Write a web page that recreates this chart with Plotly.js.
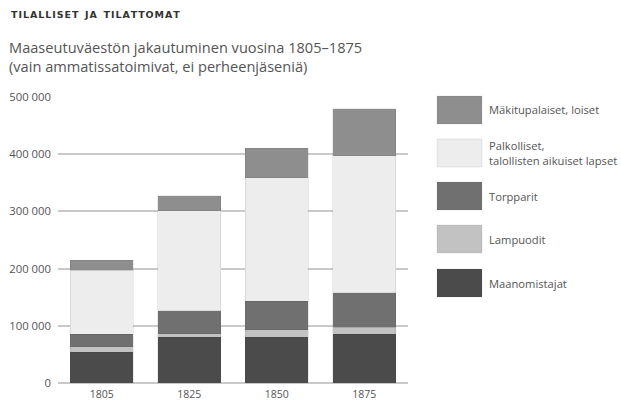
<!DOCTYPE html>
<html><head><meta charset="utf-8">
<script src="https://cdn.plot.ly/plotly-3.0.1.min.js"></script>
<style>body{margin:0;background:#fff}#c{width:621px;height:403px}</style>
</head><body><div id="c"></div>
<script>
const years = ['1805', '1825', '1850', '1875'];
const seriesNames = ['Maanomistajat', 'Lampuodit', 'Torpparit', 'Palkolliset,<br>talollisten aikuiset lapset', 'Mäkitupalaiset, loiset'];
const maanomistajat = [54000, 80000, 80000, 85000];
const lampuodit = [9000, 6500, 13500, 12500];
const torpparit = [22000, 40000, 49000, 60000];
const palkolliset = [112000, 175000, 216000, 240000];
const makitupalaiset = [18000, 26000, 52000, 82000];
const seriesValues = [maanomistajat, lampuodit, torpparit, palkolliset, makitupalaiset];
const colors = ['#4b4b4b', '#c2c2c2', '#707070', '#ededed', '#8e8e8e'];
const yTicks = [0, 100000, 200000, 300000, 400000, 500000];

const traces = seriesValues.map((v, i) => ({
  type: 'bar', x: years, y: v, name: seriesNames[i],
  marker: {color: colors[i], line: {color: 'rgba(60,60,60,0.2)', width: 0.5}},
  width: 0.72, hoverinfo: 'skip'
}));

const L = 58, R = 213, T = 97, B = 20;
const W = 621, H = 403;
const pw = W - L - R, ph = H - T - B;
const shapes = [], annotations = [];
const order = [4, 3, 2, 1, 0];
const legendY = [110, 153, 196, 239, 283];
order.forEach((si, k) => {
  const cy = legendY[k];
  shapes.push({type: 'rect', xref: 'paper', yref: 'paper',
    x0: (437 - L) / pw, x1: (482 - L) / pw,
    y0: (H - B - (cy + 14)) / ph, y1: (H - B - (cy - 14)) / ph,
    fillcolor: colors[si], line: {color: 'rgba(60,60,60,0.2)', width: 0.5}});
  annotations.push({xref: 'paper', yref: 'paper', x: (487 - L) / pw, y: (H - B - cy) / ph,
    xanchor: 'left', yanchor: 'middle', align: 'left', showarrow: false,
    text: seriesNames[si], font: {family: 'Open Sans, sans-serif', size: 11.2, color: '#555'}});
});
const titleText = 'TILALLISET JA TILATTOMAT'.split('').join('&#8202;').replace(/ /g, '&#8194;');
annotations.push({xref: 'paper', yref: 'paper', x: (9 - L) / pw, y: (H - B - 14) / ph,
  xanchor: 'left', yanchor: 'middle', showarrow: false,
  text: '<b>' + titleText + '</b>',
  font: {family: 'DejaVu Sans, sans-serif', size: 9.5, color: '#333'}});
annotations.push({xref: 'paper', yref: 'paper', x: (7 - L) / pw, y: (H - B - 56) / ph,
  xanchor: 'left', yanchor: 'middle', align: 'left', showarrow: false,
  text: 'Maaseutuväestön jakautuminen vuosina 1805–1875<br>(vain ammatissatoimivat, ei perheenjäseniä)',
  font: {family: 'Open Sans, sans-serif', size: 14.6, color: '#555'}});

const layout = {
  width: W, height: H, margin: {l: L, r: R, t: T, b: B},
  paper_bgcolor: '#fff', plot_bgcolor: '#fff',
  barmode: 'stack', showlegend: false, separators: ', ',
  xaxis: {type: 'category', range: [-0.5, 3.5], showgrid: false, showline: false, zeroline: false,
    ticks: '', ticklabelstandoff: 3, tickfont: {family: 'Open Sans, sans-serif', size: 10.5, color: '#555'}, automargin: false},
  yaxis: {range: [0, 500000], tickvals: yTicks, tickformat: ',d', showgrid: true,
    gridcolor: '#c9c9c9', gridwidth: 2, zeroline: true, zerolinecolor: '#c9c9c9', zerolinewidth: 2,
    showline: false, ticks: '', ticklabelstandoff: 6,
    tickfont: {family: 'Open Sans, sans-serif', size: 11.3, color: '#555'}, automargin: false},
  shapes: shapes, annotations: annotations
};
Plotly.newPlot('c', traces, layout, {displayModeBar: false, staticPlot: true});
</script></body></html>
